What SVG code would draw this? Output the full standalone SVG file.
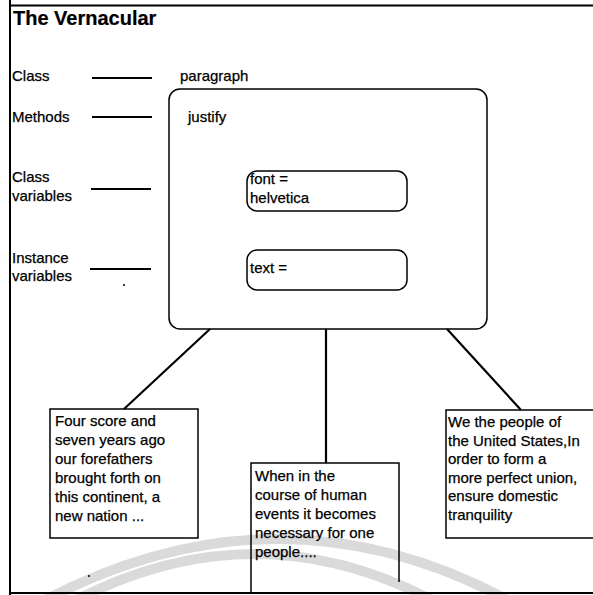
<svg xmlns="http://www.w3.org/2000/svg" width="593" height="595" viewBox="0 0 593 595">
  <style>
    text { font-family: "Liberation Sans", Arial, sans-serif; font-size: 15px; fill: #000; stroke: #000; stroke-width: 0.25; }
    .title { font-size: 20px; font-weight: bold; stroke-width: 0.2; }
    .frame { fill: none; stroke: #000; stroke-width: 2; }
    .box { fill: none; stroke: #000; stroke-width: 1.5; }
    .rule { stroke: #000; stroke-width: 2; }
    .link { stroke: #000; stroke-width: 2.2; fill: none; }
    .band { fill: none; stroke: #dadada; stroke-width: 10; }
  </style>

  <rect width="593" height="595" fill="#fff"/>

  <!-- faint background bands -->
  <g id="bands">
    <path class="band" d="M 45 600 Q 280 478 508 600"/>
    <path class="band" d="M 76 600 Q 255 508 432 600"/>
  </g>

  <!-- page frame -->
  <g id="frame">
    <path class="frame" d="M 10 0 V 595"/>
    <path class="frame" d="M 10 5.5 H 593"/>
    <path class="frame" d="M 10 593 H 593"/>
  </g>

  <text class="title" x="13" y="25">The Vernacular</text>

  <!-- legend on the left -->
  <g id="legend">
    <text x="12" y="81">Class</text>
    <line class="rule" x1="92" y1="78" x2="152" y2="78"/>
    <text x="12" y="122">Methods</text>
    <line class="rule" x1="92" y1="117" x2="152" y2="117"/>
    <text x="12" y="182">Class</text>
    <text x="12" y="201">variables</text>
    <line class="rule" x1="91" y1="189" x2="151" y2="189"/>
    <text x="12" y="263">Instance</text>
    <text x="12" y="281">variables</text>
    <line class="rule" x1="90" y1="269" x2="151" y2="269"/>
  </g>

  <!-- the paragraph class -->
  <g id="paragraph">
    <text x="180" y="81">paragraph</text>
    <rect class="box" x="169" y="89" width="318" height="240" rx="11"/>
    <text x="188" y="122">justify</text>
  </g>

  <g id="font-var">
    <rect class="box" x="247" y="171" width="160" height="40" rx="10"/>
    <text x="250" y="184">font =</text>
    <text x="250" y="203">helvetica</text>
  </g>

  <g id="text-var">
    <rect class="box" x="247" y="250" width="160" height="40" rx="10"/>
    <text x="250" y="273">text =</text>
  </g>

  <!-- instance links -->
  <g id="connectors">
    <line class="link" x1="210" y1="329" x2="124" y2="409"/>
    <line class="link" x1="326" y1="329" x2="326" y2="463"/>
    <line class="link" x1="447" y1="329" x2="521" y2="410"/>
  </g>

  <g id="instance-1">
    <rect class="box" x="50" y="409" width="148" height="129"/>
    <text x="55" y="426">Four score and</text>
    <text x="55" y="445">seven years ago</text>
    <text x="55" y="464">our forefathers</text>
    <text x="55" y="483">brought forth on</text>
    <text x="55" y="502">this continent, a</text>
    <text x="55" y="521">new nation ...</text>
  </g>

  <g id="instance-2">
    <path class="box" d="M 251 593 V 463 H 399 V 582"/>
    <text x="255" y="481">When in the</text>
    <text x="255" y="500">course of human</text>
    <text x="255" y="519">events it becomes</text>
    <text x="255" y="538">necessary for one</text>
    <text x="255" y="557">people....</text>
  </g>

  <g id="instance-3">
    <path class="box" d="M 594 410 H 446 V 538 H 594"/>
    <text x="448" y="427">We the people of</text>
    <text x="448" y="446">the United States,In</text>
    <text x="448" y="464">order to form a</text>
    <text x="448" y="483">more perfect union,</text>
    <text x="448" y="501">ensure domestic</text>
    <text x="448" y="520">tranquility</text>
  </g>

  <!-- specks -->
  <circle cx="124" cy="285" r="1" fill="#000"/>
  <circle cx="89" cy="576" r="1" fill="#000"/>
</svg>
